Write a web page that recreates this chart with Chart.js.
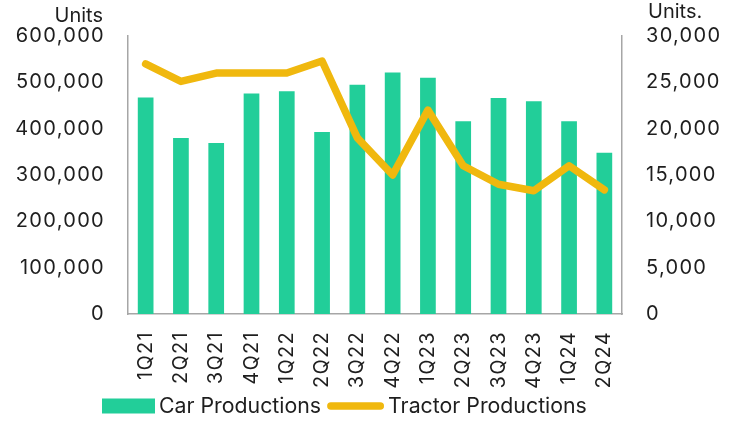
<!DOCTYPE html>
<html><head><meta charset="utf-8">
<script src="https://cdn.jsdelivr.net/npm/chart.js@4.4.1/dist/chart.umd.min.js"></script>
<style>html,body{margin:0;padding:0;background:#fff}#wrap{width:738px;height:421px;position:relative}</style>
</head><body><div id="wrap"><canvas id="c"></canvas></div>
<script>
const categories = ['1Q21','2Q21','3Q21','4Q21','1Q22','2Q22','3Q22','4Q22','1Q23','2Q23','3Q23','4Q23','1Q24','2Q24'];
const carProductions = [467000,380000,369000,476000,481000,393000,495000,521000,510000,416000,466000,459000,416000,348000];
const tractorProductions = [27000,25100,26000,26000,26000,27300,19000,15000,22000,16000,14000,13300,16000,13400];
const leftTicks = [0,100000,200000,300000,400000,500000,600000];
const rightTicks = [0,5000,10000,15000,20000,25000,30000];
const leftTitle = 'Units';
const rightTitle = 'Units.';

const fontFamily = 'Inter, "DejaVu Sans", sans-serif';
const tickFont = {family:fontFamily, size:20};
const axisColor = '#a6a6a6';
const textColor = '#1e1e1e';
const carColor = '#22ce99';
const tractorColor = '#f0b80e';
const tickSpacing = '1.3px';

const spacingPlugin = {
  id:'spacing',
  beforeLayout(chart){ chart.ctx.letterSpacing = tickSpacing; },
  beforeDraw(chart){ chart.ctx.letterSpacing = tickSpacing; }
};

const overlayPlugin = {
  id:'overlay',
  afterDraw(chart){
    const ctx = chart.ctx;
    const yl = chart.scales.y, yr = chart.scales.y1;
    ctx.save();
    ctx.letterSpacing = '0px';
    ctx.font = '20px ' + fontFamily;
    ctx.fillStyle = textColor;
    ctx.textBaseline = 'alphabetic';
    ctx.textAlign = 'right';
    ctx.fillText(leftTitle, yl.right - 25, 21.5);
    ctx.textAlign = 'left';
    ctx.fillText(rightTitle, yr.left + 26, 18);

    // legend
    ctx.font = '21.3px ' + fontFamily;
    const ds = chart.data.datasets;
    const bar = ds.find(d => d.type === 'bar');
    const line = ds.find(d => d.type === 'line');
    let x = 102;
    const cy = 406;
    ctx.fillStyle = bar.backgroundColor;
    ctx.fillRect(x, cy - 7.5, 53, 15);
    x += 53 + 4;
    ctx.fillStyle = textColor;
    ctx.textAlign = 'left';
    ctx.fillText(bar.label, x, 413.3);
    x += ctx.measureText(bar.label).width + 6;
    ctx.strokeStyle = line.borderColor;
    ctx.lineWidth = line.borderWidth;
    ctx.lineCap = 'round';
    ctx.beginPath();
    ctx.moveTo(x + 3.8, cy);
    ctx.lineTo(x + 57 - 3.8, cy);
    ctx.stroke();
    x += 57 + 4;
    ctx.fillText(line.label, x, 413.3);
    ctx.restore();
  }
};

new Chart(document.getElementById('c'), {
  data:{
    labels:categories,
    datasets:[
      {type:'line', label:'Tractor Productions', data:tractorProductions, yAxisID:'y1',
       borderColor:tractorColor, backgroundColor:tractorColor, borderWidth:7.5, pointRadius:0,
       borderCapStyle:'round', borderJoinStyle:'round', tension:0, order:0},
      {type:'bar', label:'Car Productions', data:carProductions, yAxisID:'y',
       backgroundColor:carColor, borderWidth:0, barPercentage:0.445, categoryPercentage:1, order:1}
    ]
  },
  options:{
    responsive:true, maintainAspectRatio:false, animation:false,
    layout:{padding:{top:33,left:0,right:0,bottom:30}},
    plugins:{ tooltip:{enabled:false}, legend:{display:false} },
    scales:{
      x:{grid:{display:false, drawTicks:false}, border:{display:true, color:axisColor, width:1.5},
         ticks:{minRotation:90, maxRotation:90, padding:17, color:textColor, font:tickFont, autoSkip:false},
         afterFit(s){ s.height = 77; }},
      y:{position:'left', min:0, max:600000, grid:{display:false, drawTicks:false},
         border:{display:true, color:axisColor, width:1.5},
         afterBuildTicks(s){ s.ticks = leftTicks.map(v=>({value:v})); },
         ticks:{padding:23, color:textColor, font:tickFont, callback:v=>v.toLocaleString('en-US')},
         afterFit(s){ s.width = 128; }},
      y1:{position:'right', min:0, max:30000, grid:{display:false, drawTicks:false},
         border:{display:true, color:axisColor, width:1.5},
         afterBuildTicks(s){ s.ticks = rightTicks.map(v=>({value:v})); },
         ticks:{padding:24, color:textColor, font:tickFont, callback:v=>v.toLocaleString('en-US')},
         afterFit(s){ s.width = 116; }}
    }
  },
  plugins:[spacingPlugin, overlayPlugin]
});
</script></body></html>
